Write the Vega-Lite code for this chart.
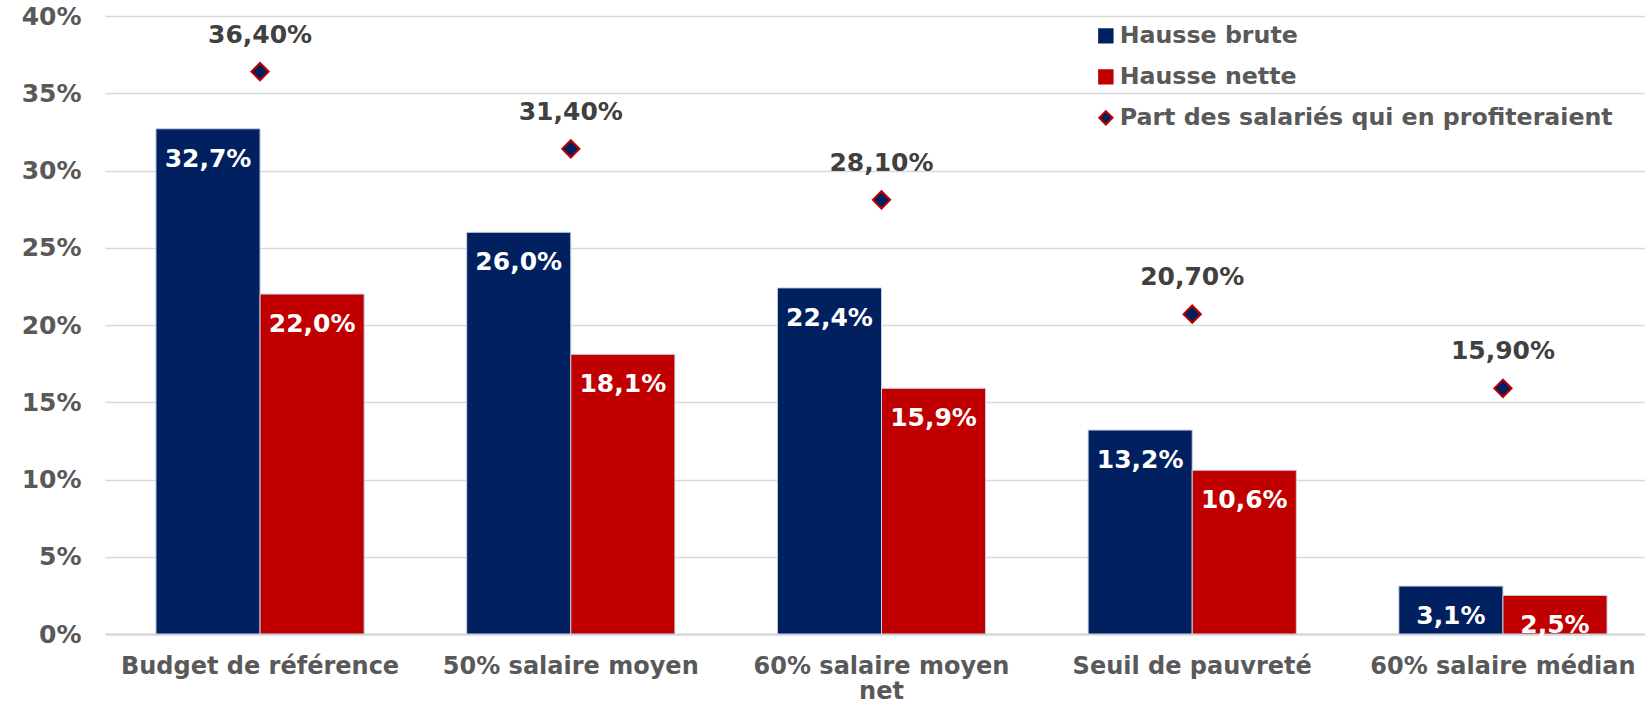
{
  "$schema": "https://vega.github.io/schema/vega-lite/v6.json",
  "autosize": {"type": "none"},
  "padding": {"left": 105, "top": 16, "right": 0, "bottom": 71},
  "width": 1540,
  "height": 618,
  "background": "white",
  "config": {
    "locale": {"number": {"decimal": ",", "thousands": " ", "grouping": [3], "currency": ["", " €"]}},
    "font": "DejaVu Sans",
    "view": {"stroke": null}
  },
  "data": {
    "values": [
      {"cat": "Budget de référence", "serie": "Hausse brute", "value": 0.327},
      {"cat": "Budget de référence", "serie": "Hausse nette", "value": 0.220},
      {"cat": "Budget de référence", "serie": "Part des salariés qui en profiteraient", "value": 0.364},
      {"cat": "50% salaire moyen", "serie": "Hausse brute", "value": 0.260},
      {"cat": "50% salaire moyen", "serie": "Hausse nette", "value": 0.181},
      {"cat": "50% salaire moyen", "serie": "Part des salariés qui en profiteraient", "value": 0.314},
      {"cat": "60% salaire moyen net", "serie": "Hausse brute", "value": 0.224},
      {"cat": "60% salaire moyen net", "serie": "Hausse nette", "value": 0.159},
      {"cat": "60% salaire moyen net", "serie": "Part des salariés qui en profiteraient", "value": 0.281},
      {"cat": "Seuil de pauvreté", "serie": "Hausse brute", "value": 0.132},
      {"cat": "Seuil de pauvreté", "serie": "Hausse nette", "value": 0.106},
      {"cat": "Seuil de pauvreté", "serie": "Part des salariés qui en profiteraient", "value": 0.207},
      {"cat": "60% salaire médian", "serie": "Hausse brute", "value": 0.031},
      {"cat": "60% salaire médian", "serie": "Hausse nette", "value": 0.025},
      {"cat": "60% salaire médian", "serie": "Part des salariés qui en profiteraient", "value": 0.159}
    ]
  },
  "encoding": {
    "x": {
      "field": "cat", "type": "nominal", "sort": null, "title": null,
      "scale": {"paddingInner": 0.33, "paddingOuter": 0.164, "range": [0, 1553]},
      "axis": {
        "labelAngle": 0, "ticks": false, "domainColor": "#D9D9D9", "domainWidth": 2.5,
        "labelFont": "DejaVu Sans", "labelFontWeight": "bold", "labelFontSize": 24, "labelColor": "#595959",
        "labelPadding": 20, "labelLineHeight": 25, "labelLimit": 400,
        "labelExpr": "datum.label == '60% salaire moyen net' ? ['60% salaire moyen', 'net'] : datum.label"
      }
    },
    "y": {
      "field": "value", "type": "quantitative", "title": null,
      "scale": {"domain": [0, 0.4], "nice": false},
      "axis": {
        "format": ".0%", "values": [0, 0.05, 0.1, 0.15, 0.2, 0.25, 0.3, 0.35, 0.4],
        "domain": false, "ticks": false, "gridColor": "#D9D9D9", "gridWidth": 1.5,
        "labelFont": "DejaVu Sans", "labelFontWeight": "bold", "labelFontSize": 25, "labelColor": "#595959",
        "labelPadding": 24
      }
    }
  },
  "layer": [
    {
      "transform": [{"filter": "datum.serie != 'Part des salariés qui en profiteraient'"}],
      "mark": {"type": "bar", "stroke": "#C8D0E0", "strokeWidth": 1},
      "encoding": {
        "xOffset": {"field": "serie", "type": "nominal", "scale": {"paddingInner": 0, "paddingOuter": 0}},
        "color": {
          "field": "serie", "type": "nominal",
          "scale": {
            "domain": ["Hausse brute", "Hausse nette", "Part des salariés qui en profiteraient"],
            "range": ["#002060", "#C00000", "#002060"]
          },
          "legend": {
            "title": null, "orient": "none", "legendX": 989, "legendY": 8, "padding": 0,
            "labelFont": "DejaVu Sans", "labelFontWeight": "bold", "labelFontSize": 23.7, "labelColor": "#595959",
            "labelOffset": 2, "rowPadding": 16, "symbolSize": 180, "symbolStrokeWidth": 2, "labelLimit": 600
          }
        }
      }
    },
    {
      "transform": [{"filter": "datum.serie != 'Part des salariés qui en profiteraient'"}],
      "mark": {"type": "text", "dy": 30, "color": "white", "fontWeight": "bold", "fontSize": 25, "font": "DejaVu Sans"},
      "encoding": {
        "xOffset": {"field": "serie", "type": "nominal", "scale": {"paddingInner": 0, "paddingOuter": 0}},
        "text": {"field": "value", "type": "quantitative", "format": ".1%"}
      }
    },
    {
      "transform": [{"filter": "datum.serie == 'Part des salariés qui en profiteraient'"}],
      "mark": {"type": "point", "filled": true, "size": 300, "strokeWidth": 2, "opacity": 1},
      "encoding": {
        "color": {"field": "serie", "type": "nominal"},
        "shape": {
          "field": "serie", "type": "nominal",
          "scale": {
            "domain": ["Hausse brute", "Hausse nette", "Part des salariés qui en profiteraient"],
            "range": ["square", "square", "diamond"]
          }
        },
        "stroke": {
          "field": "serie", "type": "nominal",
          "scale": {
            "domain": ["Hausse brute", "Hausse nette", "Part des salariés qui en profiteraient"],
            "range": ["#002060", "#C00000", "#C00000"]
          }
        }
      }
    },
    {
      "transform": [{"filter": "datum.serie == 'Part des salariés qui en profiteraient'"}],
      "mark": {"type": "text", "dy": -37, "color": "#404040", "fontWeight": "bold", "fontSize": 25, "font": "DejaVu Sans"},
      "encoding": {
        "text": {"field": "value", "type": "quantitative", "format": ".2%"}
      }
    }
  ]
}
